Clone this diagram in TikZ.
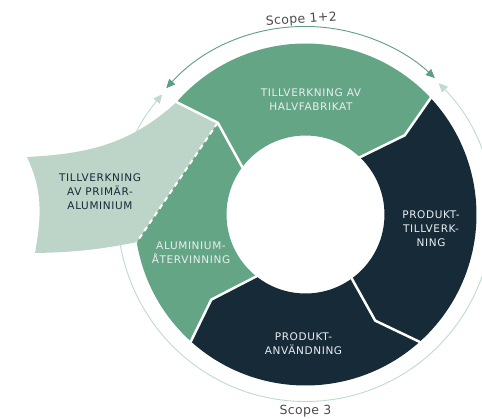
\documentclass[tikz,border=0pt]{standalone}
\usepackage{fontspec}
\newfontfamily\ringfont[LetterSpace=6]{DejaVu Sans}
\newfontfamily\scopefont[LetterSpace=3]{DejaVu Sans}
\usetikzlibrary{arrows.meta}

\definecolor{ringgreen}{HTML}{64A586}
\definecolor{ringnavy}{HTML}{172A38}
\definecolor{palegreen}{HTML}{BCD5C8}
\definecolor{arcgreen}{HTML}{5E9E80}
\definecolor{arcpale}{HTML}{BEDBCD}
\definecolor{labelwhite}{HTML}{E8EEEF}
\definecolor{scopegray}{HTML}{4A4A4A}

\tikzset{
  seglabel/.style={text=labelwhite, font=\ringfont\fontsize{10.5}{14}\selectfont, align=center},
  flaplabel/.style={seglabel, text=ringnavy},
  scopelabel/.style={text=scopegray, font=\scopefont\fontsize{12.5}{14}\selectfont},
  gapline/.style={draw=white, line width=2.5pt},
  scopearc/.style={line width=0.9pt, {Triangle[length=9pt,width=8pt]}-{Triangle[length=9pt,width=8pt]}},
}

\begin{document}
\begin{tikzpicture}[x=1pt,y=1pt]
\useasboundingbox (-305.5,-203.5) rectangle (176.5,214.5);

% scope arcs
\draw[scopearc, arcpale] (140:187pt) arc[start angle=140, end angle=404.6, radius=187pt];
\draw[scopearc, arcgreen] (137.8:188pt) arc[start angle=137.8, end angle=46.5, radius=188pt];

% ring
\fill[ringgreen] (43:171pt) arc[start angle=43, end angle=139, radius=171pt] -- (133.7:127pt) -- (143.8:79pt) arc[start angle=143.8, end angle=47, radius=79pt] -- (38.6:127pt) -- cycle;
\fill[ringnavy] (-48:171pt) arc[start angle=-48, end angle=43, radius=171pt] -- (38.6:127pt) -- (47:79pt) arc[start angle=47, end angle=-54, radius=79pt] -- (-56.7:127pt) -- cycle;
\fill[ringnavy] (228:171pt) arc[start angle=228, end angle=312, radius=171pt] -- (303.3:127pt) -- (306:79pt) arc[start angle=306, end angle=232.2, radius=79pt] -- (222.1:127pt) -- cycle;
\fill[ringgreen] (139:171pt) arc[start angle=139, end angle=228, radius=171pt] -- (222.1:127pt) -- (232.2:79pt) arc[start angle=232.2, end angle=143.8, radius=79pt] -- (133.7:127pt) -- cycle;

% primary aluminium flap
\fill[palegreen] (-278.5,57.5) to[out=3,in=222] (139:171pt) -- (133.7:127pt) -- (189.3:171pt) to[bend left=5] (-270.5,-38.5) to[out=80,in=-65] cycle;
\draw[white, line width=2pt, dash pattern=on 5pt off 4pt] (133.7:127pt) -- (189.3:171pt);

% gaps
\draw[gapline] (43:172pt) -- (38.6:127pt) -- (47:77pt);
\draw[gapline] (-48:172pt) -- (-56.7:127pt) -- (-54:77pt);
\draw[gapline] (228:172pt) -- (222.1:127pt) -- (232.2:77pt);
\draw[gapline] (139:172pt) -- (133.7:127pt) -- (143.8:77pt);

\node[seglabel] (halvfab) at (5.5,114.5) {TILLVERKNING AV\\HALVFABRIKAT};
\node[seglabel] (prodtillv) at (125.5,-14) {PRODUKT-\\TILLVERK-\\NING};
\node[seglabel] (prodanv) at (-2,-129.5) {PRODUKT-\\ANVÄNDNING};
\node[seglabel] (alu) at (-114.5,-38) {ALUMINIUM-\\ÅTERVINNING};
\node[flaplabel] (primar) at (-205.5,22.5) {TILLVERKNING\\AV PRIMÄR-\\ALUMINIUM};

\node[scopelabel, anchor=base, rotate=4] (scopetop) at (-4,191.5) {Scope 1+2};
\node[scopelabel, anchor=base] (scopebot) at (0,-199.8) {Scope 3};

\end{tikzpicture}
\end{document}
